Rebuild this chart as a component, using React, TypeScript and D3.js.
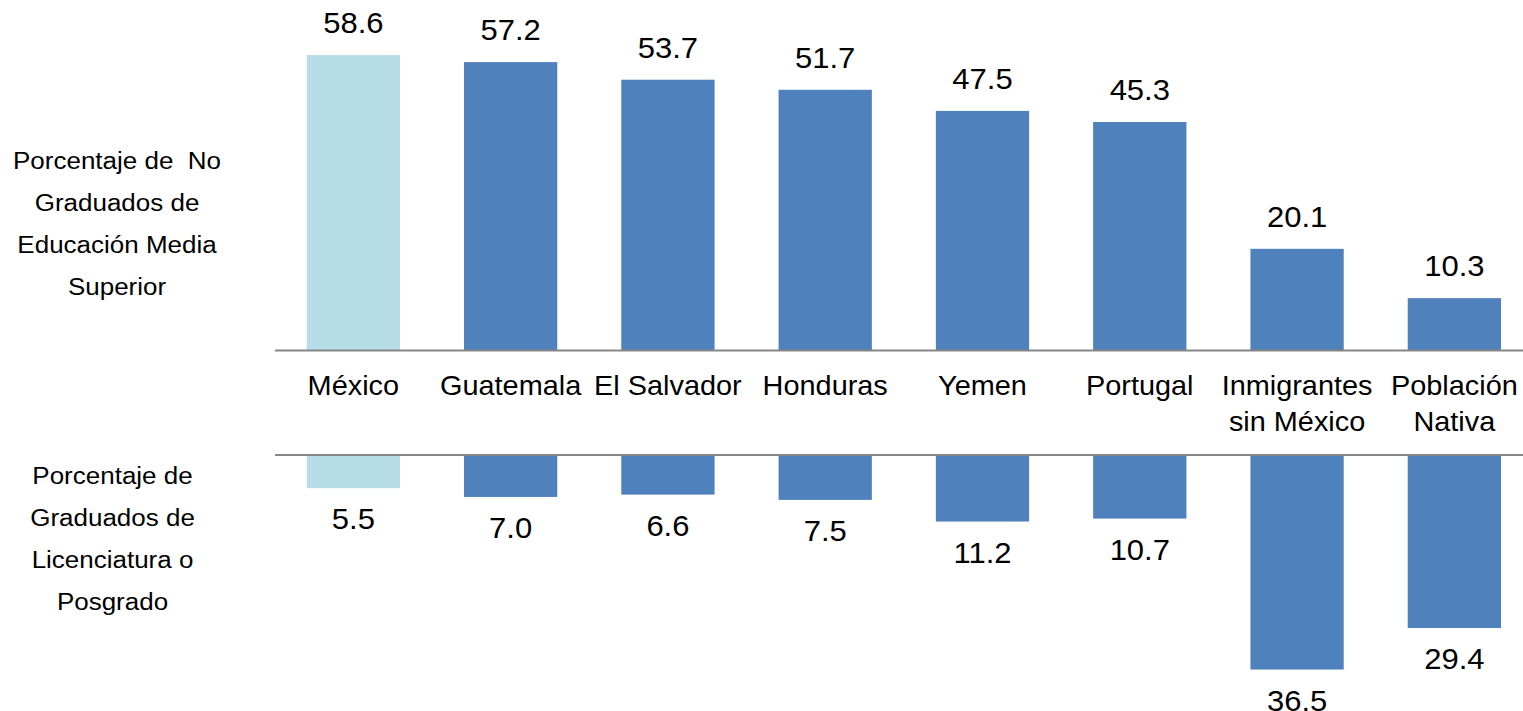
import React from "react";
import * as d3 from "d3";

const categories: string[][] = [
  ["México"],
  ["Guatemala"],
  ["El Salvador"],
  ["Honduras"],
  ["Yemen"],
  ["Portugal"],
  ["Inmigrantes", "sin México"],
  ["Población", "Nativa"],
];
const noGraduados: number[] = [58.6, 57.2, 53.7, 51.7, 47.5, 45.3, 20.1, 10.3];
const graduados: number[] = [5.5, 7.0, 6.6, 7.5, 11.2, 10.7, 36.5, 29.4];
const highlight = "México";
const topLabel: string[] = ["Porcentaje de  No", "Graduados de", "Educación Media", "Superior"];
const bottomLabel: string[] = ["Porcentaje de", "Graduados de", "Licenciatura o", "Posgrado"];

const W = 1523;
const H = 711;
const FONT = "'Liberation Sans', Arial, sans-serif";
const LIGHT = "#B7DDE8";
const DARK = "#4F81BD";
const AXIS = "#868686";

export default function App() {
  const keys = categories.map((c) => c.join(" "));
  const x = d3.scaleBand<string>().domain(keys).range([306.7, 1501]).paddingInner(0.407).paddingOuter(0);
  const topBase = 350;
  const botBase = 456;
  const yTop = d3.scaleLinear().domain([0, 60]).range([topBase, topBase - 302]);
  const yBot = d3.scaleLinear().domain([0, 40]).range([botBase, botBase + 234]);
  const bw = x.bandwidth();

  const valueText = (cx: number, y: number, v: number, k: string) => (
    <text
      key={k}
      transform={`translate(${cx},${y}) scale(1.05,1)`}
      textAnchor="middle"
      fontFamily={FONT}
      fontSize={29.5}
      fill="#000"
    >
      {v.toFixed(1)}
    </text>
  );

  return (
    <svg
      width={W}
      height={H}
      style={{ position: "absolute", left: 0, top: 0, display: "block", background: "#fff" }}
    >
      {keys.map((k, i) => {
        const x0 = x(k)!;
        const yv = yTop(noGraduados[i]);
        return (
          <g key={"t" + k}>
            <rect x={x0} y={yv} width={bw} height={topBase - yv} fill={categories[i][0] === highlight ? LIGHT : DARK} />
            {valueText(x0 + bw / 2, yv - 22, noGraduados[i], "tv" + k)}
          </g>
        );
      })}
      {keys.map((k, i) => {
        const x0 = x(k)!;
        const yv = yBot(graduados[i]);
        return (
          <g key={"b" + k}>
            <rect x={x0} y={botBase} width={bw} height={yv - botBase} fill={categories[i][0] === highlight ? LIGHT : DARK} />
            {valueText(x0 + bw / 2, yv + 41, graduados[i], "bv" + k)}
          </g>
        );
      })}
      <line x1={275} x2={W} y1={350.5} y2={350.5} stroke={AXIS} strokeWidth={2} />
      <line x1={275} x2={W} y1={455} y2={455} stroke={AXIS} strokeWidth={2} />
      {keys.map((k, i) => (
        <g key={"c" + k}>
          {categories[i].map((line, j) => (
            <text
              key={j}
              transform={`translate(${x(k)! + bw / 2},${394.5 + j * 36}) scale(1.05,1)`}
              textAnchor="middle"
              fontFamily={FONT}
              fontSize={27.5}
              fill="#000"
            >
              {line}
            </text>
          ))}
        </g>
      ))}
      {topLabel.map((line, j) => (
        <text
          key={"tl" + j}
          transform={`translate(117,${168.8 + j * 42.2}) scale(1.13,1)`}
          textAnchor="middle"
          fontFamily={FONT}
          fontSize={23}
          fill="#000"
          style={{ whiteSpace: "pre" }}
        >
          {line}
        </text>
      ))}
      {bottomLabel.map((line, j) => (
        <text
          key={"bl" + j}
          transform={`translate(112.5,${483.5 + j * 42.2}) scale(1.13,1)`}
          textAnchor="middle"
          fontFamily={FONT}
          fontSize={23}
          fill="#000"
        >
          {line}
        </text>
      ))}
    </svg>
  );
}
